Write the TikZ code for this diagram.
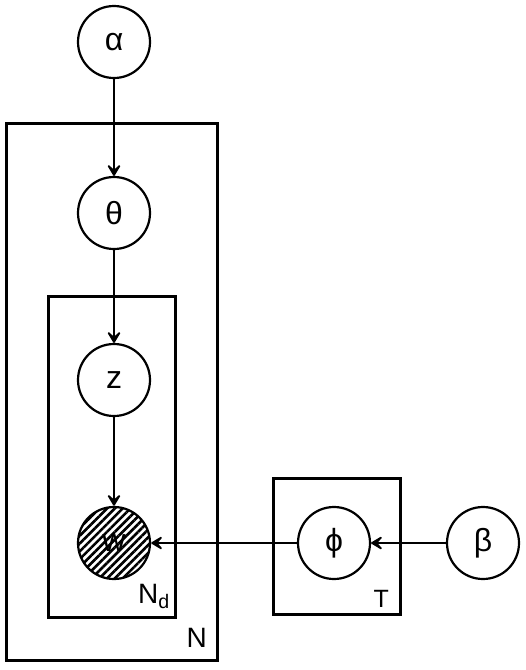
\documentclass[tikz,border=0pt]{standalone}
\usepackage{fontspec}
\setmainfont{Liberation Sans}
\usetikzlibrary{arrows.meta, patterns.meta}
\tikzset{
    varnode/.style={circle, draw=black, line width=2.2pt, fill=white, minimum size=72pt, inner sep=0pt, font=\fontsize{32}{36}\selectfont},
    obsnode/.style={varnode, pattern={Lines[angle=45, distance=5.5pt, line width=2.6pt]}},
    plate/.style={draw=black, line width=3pt},
    platelab/.style={anchor=base east, inner sep=0pt, font=\fontsize{28}{32}\selectfont},
    link/.style={line width=2.2pt, arrows={-Stealth[length=15pt, width=18pt, inset=8pt, round]}}
}
\begin{document}
\begin{tikzpicture}[x=1pt, y=-1pt]
    \useasboundingbox (0,0) rectangle (526,670);

    % --- PLATES ---
    \draw[plate] (6,123) rectangle (217,660);
    \draw[plate] (48,296) rectangle (175,617);
    \draw[plate] (273,478) rectangle (400,614);
    \node[platelab] (labN) at (207,647) {N};
    \node[platelab] (labNd) at (170,603) {N\textsubscript{d}};
    \node[platelab, font=\fontsize{25}{29}\selectfont] (labT) at (389,607) {T};

    % --- VARIABLES ---
    \node[varnode] (alpha) at (114,42) {α};
    \node[varnode] (theta) at (114,213) {θ};
    \node[varnode] (z) at (114,380) {z};
    \node[obsnode] (w) at (114,543) {w};
    \node[varnode] (phi) at (334,543) {ϕ};
    \node[varnode] (beta) at (483,543) {β};

    % --- EDGES ---
    \draw[link] (alpha) -- (theta);
    \draw[link] (theta) -- (z);
    \draw[link] (z) -- (w);
    \draw[link] (phi) -- (w);
    \draw[link] (beta) -- (phi);
\end{tikzpicture}
\end{document}
